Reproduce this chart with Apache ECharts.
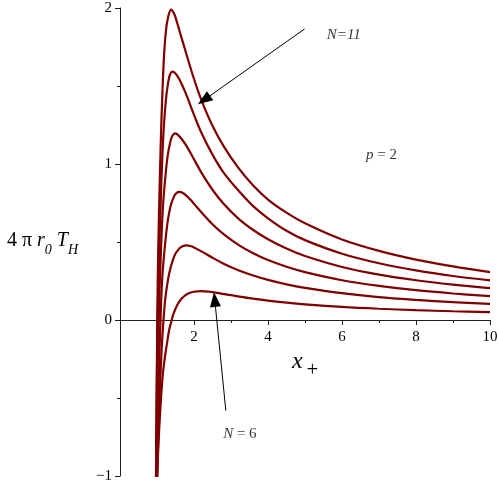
<!DOCTYPE html>
<html>
<head>
<meta charset="utf-8">
<script src="https://cdn.jsdelivr.net/npm/echarts@6/dist/echarts.min.js"></script>
<style>
html,body{margin:0;padding:0;background:#fff;}
#c{width:498px;height:482px;}
</style>
</head>
<body>
<div id="c"></div>
<script>
// ---- data ----
const xTicks = [0, 2, 4, 6, 8, 10];
const yTicks = [-1, 0, 1, 2];

const xN11 = [0.97,0.98,0.99,1.0,1.02,1.05,1.08,1.12,1.18,1.24,1.3,1.38,1.45,1.5,1.6,1.7,1.8,2.0,2.2,2.5,2.8,3.2,3.6,4,4.5,5,6,7,8,9,10];
const yN11 = [-1.16,-0.81,-0.49,-0.21,0.26,0.64,0.94,1.28,1.65,1.85,1.94,1.99,1.97,1.94,1.86,1.78,1.70,1.545,1.41,1.245,1.115,0.975,0.862,0.772,0.688,0.62,0.516,0.443,0.387,0.344,0.307];

const xN10 = [0.97,0.98,0.99,1.0,1.02,1.05,1.08,1.12,1.18,1.24,1.3,1.35,1.418,1.5,1.6,1.7,1.8,2.0,2.2,2.5,2.8,3.2,3.6,4,4.5,5,6,7,8,9,10];
const yN10 = [-1.07,-0.80,-0.55,-0.33,0.04,0.35,0.60,0.90,1.22,1.41,1.52,1.572,1.592,1.58,1.545,1.495,1.44,1.315,1.2,1.06,0.945,0.83,0.73,0.652,0.572,0.512,0.425,0.364,0.318,0.282,0.254];

const xN9 = [0.98,0.99,1.0,1.02,1.04,1.06,1.1,1.16,1.23,1.29,1.35,1.4,1.492,1.55,1.65,1.8,2.0,2.2,2.5,2.8,3.2,3.6,4,4.5,5,6,7,8,9,10];
const yN9 = [-1.105,-0.90,-0.71,-0.38,-0.10,0.126,0.40,0.724,0.928,1.055,1.131,1.173,1.196,1.19,1.165,1.115,1.03,0.945,0.835,0.745,0.65,0.577,0.518,0.458,0.41,0.34,0.291,0.255,0.227,0.204];

const xN8 = [0.99,1.0,1.02,1.04,1.06,1.09,1.14,1.21,1.27,1.33,1.39,1.45,1.5,1.597,1.7,1.8,1.9,2.0,2.2,2.5,2.8,3.2,3.6,4,4.5,5,6,7,8,9,10];
const yN8 = [-1.12,-0.97,-0.70,-0.47,-0.27,-0.033,0.263,0.464,0.599,0.69,0.749,0.786,0.808,0.821,0.814,0.796,0.772,0.745,0.69,0.614,0.55,0.482,0.428,0.384,0.341,0.307,0.255,0.219,0.191,0.17,0.153];

const xN7 = [1.0,1.02,1.04,1.07,1.12,1.17,1.22,1.28,1.34,1.46,1.58,1.69,1.796,1.9,2.0,2.2,2.5,2.8,3.2,3.6,4,4.5,5,6,7,8,9,10];
const yN7 = [-1.07,-0.875,-0.706,-0.49,-0.216,-0.017,0.128,0.233,0.31,0.405,0.4525,0.473,0.478,0.474,0.465,0.44,0.399,0.361,0.319,0.285,0.257,0.2285,0.206,0.172,0.147,0.129,0.114,0.103];

const xN6 = [1.0,1.01,1.06,1.11,1.16,1.22,1.28,1.33,1.39,1.44,1.55,1.66,1.77,1.88,1.99,2.18,2.4,2.7,3.0,3.5,4,4.5,5,6,7,8,9,10];
const yN6 = [-1.02,-0.957,-0.695,-0.496,-0.343,-0.226,-0.135,-0.063,-0.008,0.036,0.098,0.1365,0.16,0.1737,0.181,0.1854,0.1818,0.1711,0.159,0.14,0.124,0.111,0.1003,0.0839,0.0721,0.0631,0.0561,0.0505];

const curveNames = ['N=11','N=10','N=9','N=8','N=7','N=6'];
const curveX = [xN11, xN10, xN9, xN8, xN7, xN6];
const curveY = [yN11, yN10, yN9, yN8, yN7, yN6];

// annotations (data coordinates)
const noteText = ['{i|N=11}', '{i|p}{n| = 2}', '{i|N}{n| = 6}'];
const noteX = [6.05, 7.07, 3.24];
const noteY = [1.827, 1.056, -0.729];
const arrowFrom = [[4.99, 1.866], [2.86, -0.581]];
const arrowTo = [[2.27, 1.41], [2.56, 0.132]];

// ---- chart ----
const SERIF = '"Liberation Serif", "Times New Roman", serif';
const RED = '#800000';

function pairs(xs, ys) { return xs.map((x, i) => [x, ys[i]]); }

const series = curveNames.map((nm, k) => ({
  name: nm,
  type: 'line',
  data: pairs(curveX[k], curveY[k]),
  showSymbol: false,
  smooth: 0.35,
  clip: true,
  lineStyle: { color: RED, width: 2.2 },
  itemStyle: { color: RED },
  silent: true,
  z: 3
}));

series.push({
  type: 'scatter',
  data: noteText.map((t, i) => ({ value: [noteX[i], noteY[i]], name: t })),
  symbolSize: 0,
  silent: true,
  label: {
    show: true,
    position: 'inside',
    formatter: p => p.name,
    color: '#000',
    rich: {
      i: { fontFamily: SERIF, fontStyle: 'italic', fontSize: 15, color: '#000' },
      n: { fontFamily: SERIF, fontSize: 15, color: '#000' }
    }
  },
  markLine: {
    silent: true,
    animation: false,
    symbol: ['none', 'triangle'],
    symbolSize: [11, 15],
    label: { show: false },
    lineStyle: { color: '#000', width: 1, type: 'solid' },
    emphasis: { disabled: true },
    data: arrowFrom.map((f, i) => [{ coord: f }, { coord: arrowTo[i] }])
  },
  z: 5
});

const chart = echarts.init(document.getElementById('c'), null, { renderer: 'canvas' });
chart.setOption({
  animation: false,
  backgroundColor: '#fff',
  grid: { left: 120, right: 8, top: 8, bottom: 6, containLabel: false, outerBoundsMode: 'none' },
  xAxis: {
    type: 'value',
    min: xTicks[0], max: xTicks[xTicks.length - 1], interval: 2,
    axisLine: { onZero: false, lineStyle: { color: '#222', width: 1 } },
    axisTick: { show: true, length: 5, lineStyle: { color: '#222' } },
    minorTick: { show: true, splitNumber: 2, length: 3, lineStyle: { color: '#222' } },
    splitLine: { show: false },
    axisLabel: {
      margin: 10, color: '#000', fontFamily: SERIF, fontSize: 15,
      formatter: v => (v === 0 ? '' : String(v))
    },
    name: '{x|x}{p|+}',
    nameLocation: 'middle',
    nameGap: 29,
    nameTextStyle: {
      rich: {
        x: { fontFamily: SERIF, fontStyle: 'italic', fontSize: 24, color: '#000', lineHeight: 26, verticalAlign: 'top' },
        p: { fontFamily: SERIF, fontSize: 20, color: '#000', padding: [11, 0, 0, 4], lineHeight: 20, verticalAlign: 'top' }
      }
    }
  },
  yAxis: {
    type: 'value',
    min: yTicks[0], max: yTicks[yTicks.length - 1], interval: 1,
    axisLine: { show: true, onZero: false, lineStyle: { color: '#222', width: 1 } },
    axisTick: { show: true, length: 5, lineStyle: { color: '#222' } },
    minorTick: { show: true, splitNumber: 2, length: 3, lineStyle: { color: '#222' } },
    splitLine: { show: false },
    axisLabel: {
      margin: 8, color: '#000', fontFamily: SERIF, fontSize: 15,
      formatter: v => (v < 0 ? '\u2212' + Math.abs(v) : String(v))
    },
    name: '{m|4 π }{i|r}{s|0}{m| }{i|T}{s|H}',
    nameLocation: 'middle',
    nameRotate: 0,
    nameGap: 42,
    nameTextStyle: {
      rich: {
        m: { fontFamily: SERIF, fontSize: 20, color: '#000', lineHeight: 22, verticalAlign: 'top' },
        i: { fontFamily: SERIF, fontStyle: 'italic', fontSize: 20, color: '#000', lineHeight: 22, verticalAlign: 'top' },
        s: { fontFamily: SERIF, fontStyle: 'italic', fontSize: 14, color: '#000', lineHeight: 14, padding: [12, 0, 0, 0], verticalAlign: 'top' }
      }
    }
  },
  series: series
});

// move the x axis (line, ticks, labels, name) up to y = 0, as in the reference
const pZero = chart.convertToPixel({ gridIndex: 0 }, [0, 0]);
const pMin = chart.convertToPixel({ gridIndex: 0 }, [0, yTicks[0]]);
chart.setOption({ xAxis: { offset: pZero[1] - pMin[1] } });
</script>
</body>
</html>
